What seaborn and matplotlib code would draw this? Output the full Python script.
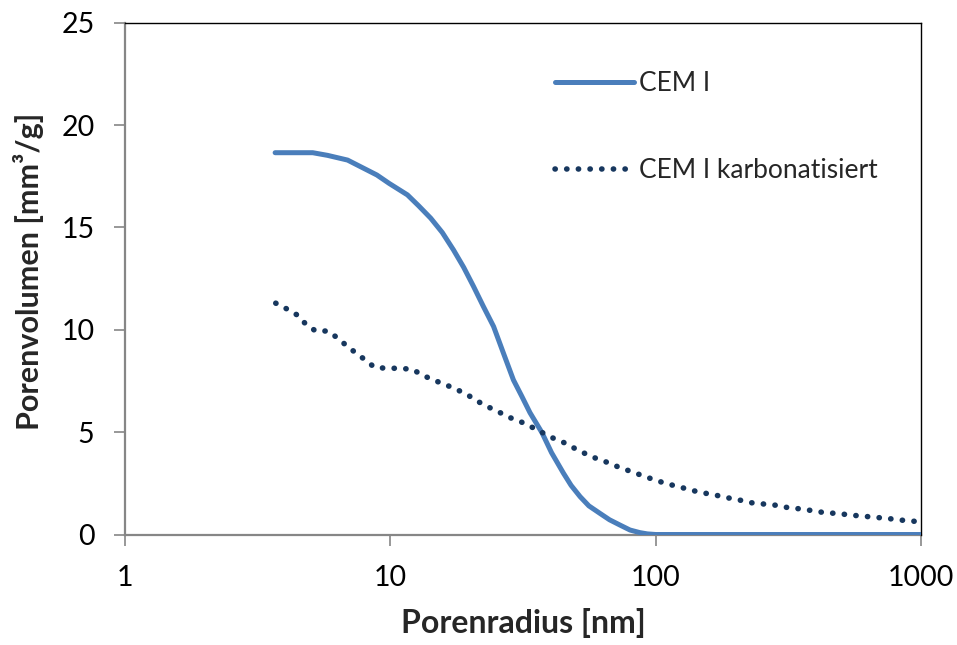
import matplotlib
matplotlib.use("Agg")
import matplotlib.pyplot as plt
from matplotlib.ticker import FixedLocator, FixedFormatter, NullLocator
import pandas as pd
import seaborn as sns

# Pore size distribution (cumulative pore volume vs. pore radius)
cem1_radius = [3.68, 4.4, 5.1, 5.8, 6.9, 8.9, 9.9, 11.6, 12.8, 14.2, 15.7, 17.3,
               18.9, 20.6, 22.4, 24.5, 26.7, 29.1, 31.3, 33.6, 37.3, 40.5, 44.9,
               48.0, 51.9, 56.0, 61.7, 67.0, 73.4, 80.0, 87.3, 93.0, 100, 1000]
cem1_volume = [18.65, 18.65, 18.65, 18.52, 18.29, 17.56, 17.15, 16.59, 16.05, 15.45,
               14.75, 13.9, 13.05, 12.11, 11.15, 10.16, 8.85, 7.55, 6.75, 5.95, 4.97,
               4.0, 3.0, 2.4, 1.85, 1.4, 1.03, 0.72, 0.46, 0.22, 0.09, 0.03, 0.0, 0.0]

karb_radius = [3.7, 4.1, 4.46, 4.8, 5.23, 5.81, 6.28, 6.79, 7.36, 7.98, 8.71,
               9.62, 10.8, 12.1, 13.2, 14.5, 16.0, 17.6, 19.4, 21.1, 23.3, 25.5,
               28.1, 31.0, 34.1, 37.5, 41.2, 45.3, 49.8, 54.7, 60.1, 66.2, 73.5,
               81.2, 89.8, 99.5, 110.7, 122, 135.5, 150.3, 167.4, 185.6, 206, 230,
               255, 284, 316, 352, 392, 436, 485, 541, 601, 670, 745, 829, 923, 1000]
karb_volume = [11.3, 11.0, 10.72, 10.28, 9.94, 9.94, 9.63, 9.26, 8.9, 8.56, 8.17,
               8.12, 8.12, 8.07, 7.79, 7.55, 7.34, 7.11, 6.85, 6.54, 6.24, 6.0,
               5.72, 5.51, 5.25, 4.97, 4.70, 4.48, 4.19, 3.93, 3.70, 3.51, 3.26,
               3.07, 2.86, 2.66, 2.47, 2.34, 2.17, 2.04, 1.93, 1.80, 1.69, 1.55,
               1.49, 1.43, 1.31, 1.25, 1.16, 1.06, 1.03, 0.95, 0.90, 0.84, 0.79, 0.71, 0.66, 0.61]

series_labels = ["CEM I", "CEM I karbonatisiert"]
x_ticks = [1, 10, 100, 1000]
x_tick_labels = ["1", "10", "100", "1000"]
y_ticks = [0, 5, 10, 15, 20, 25]

sns.set_theme(style="white")
plt.rcParams["font.family"] = ["Lato", "DejaVu Sans"]

df_cem1 = pd.DataFrame({"radius": cem1_radius, "volume": cem1_volume})
df_karb = pd.DataFrame({"radius": karb_radius, "volume": karb_volume})

fig = plt.figure(figsize=(9.57, 6.45), dpi=100)
ax = fig.add_axes([0.1306, 0.1713, 0.8318, 0.7935])

sns.lineplot(data=df_cem1, x="radius", y="volume", ax=ax, estimator=None, sort=False,
             color="#4A7EBB", linewidth=3.6, label=series_labels[0],
             solid_capstyle="round", solid_joinstyle="round", zorder=3)
sns.lineplot(data=df_karb, x="radius", y="volume", ax=ax, estimator=None, sort=False,
             color="#17375E", linewidth=4.0, linestyle=(0, (0.05, 2.05)),
             dash_capstyle="round", label=series_labels[1], zorder=4)

ax.set_xscale("log")
ax.set_xlim(1, 1000)
ax.set_ylim(0, 25)
ax.xaxis.set_major_locator(FixedLocator(x_ticks))
ax.xaxis.set_major_formatter(FixedFormatter(x_tick_labels))
ax.xaxis.set_minor_locator(NullLocator())
ax.yaxis.set_major_locator(FixedLocator(y_ticks))

ax.tick_params(axis="both", which="major", direction="out", length=8, width=1.2,
               color="#868686", labelsize=20.5, labelcolor="black")
ax.tick_params(axis="x", pad=14)
ax.tick_params(axis="y", pad=14)
ax.tick_params(right=False, top=False, left=True, bottom=True)

for side in ("left", "bottom"):
    ax.spines[side].set_color("#868686")
    ax.spines[side].set_linewidth(1.6)
    ax.spines[side].set_zorder(2)
for side in ("top", "right"):
    ax.spines[side].set_color("black")
    ax.spines[side].set_linewidth(1.0)

ax.set_xlabel("Porenradius [nm]", fontsize=23, fontweight="bold", labelpad=12)
ax.set_ylabel("Porenvolumen [mm³/g]", fontsize=22, fontweight="bold")
ax.yaxis.set_label_coords(-0.102, 0.515)

leg = ax.legend(loc="upper left", bbox_to_anchor=(0.54, 0.905), frameon=False,
                fontsize=19, handlelength=3.0, handletextpad=0.2,
                labelspacing=2.35, borderaxespad=0, borderpad=0)

fig.savefig("out.png", dpi=100, facecolor="white")
